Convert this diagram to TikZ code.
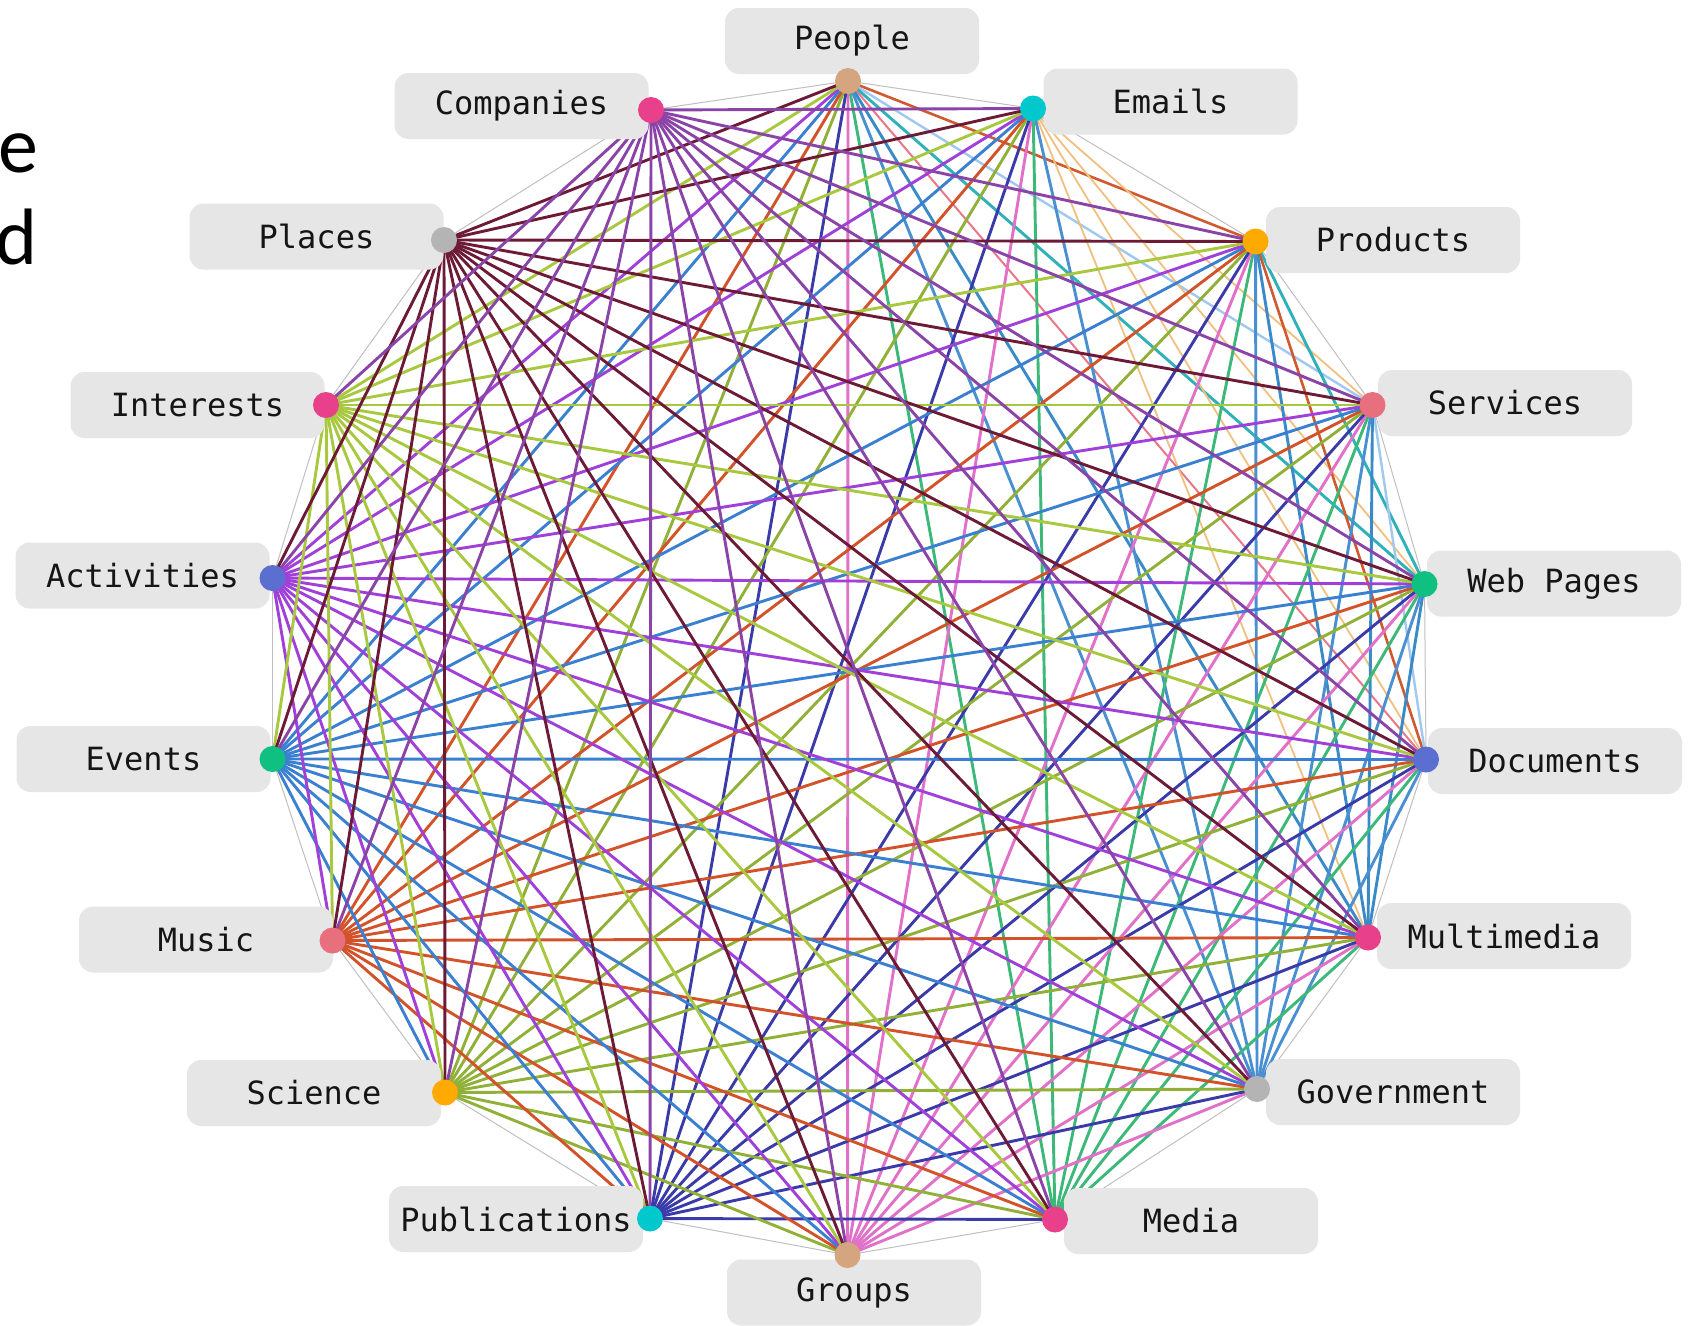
\documentclass[tikz,border=0pt]{standalone}
\usepackage{fontspec}
\newfontfamily\labelfont{DejaVu Sans Mono}
\newfontfamily\slidefont{Carlito}
% dot colours
\definecolor{dtan}{HTML}{D4A57F}
\definecolor{dpink}{HTML}{E8408A}
\definecolor{dcyan}{HTML}{00C8CC}
\definecolor{dgray}{HTML}{B4B4B4}
\definecolor{dorange}{HTML}{FFAA00}
\definecolor{dsalmon}{HTML}{E8707E}
\definecolor{dslate}{HTML}{5B6FD0}
\definecolor{dgreen}{HTML}{10C080}
\definecolor{boxfill}{HTML}{E6E6E6}
\definecolor{rimgray}{HTML}{C0C0C0}
\definecolor{txt}{HTML}{151515}
% edge colours by owning node
\definecolor{ec0}{HTML}{C87850}
\definecolor{ec1}{HTML}{F0C080}
\definecolor{ec2}{HTML}{D05A30}
\definecolor{ec3}{HTML}{A0C8F0}
\definecolor{ec4}{HTML}{30B0B8}
\definecolor{ec5}{HTML}{E87888}
\definecolor{ec6}{HTML}{3A8AC8}
\definecolor{ec7}{HTML}{4A90D0}
\definecolor{ec8}{HTML}{3CB878}
\definecolor{ec9}{HTML}{E070C8}
\definecolor{ec10}{HTML}{3A3AA8}
\definecolor{ec11}{HTML}{90B038}
\definecolor{ec12}{HTML}{D2522A}
\definecolor{ec13}{HTML}{3A7FD0}
\definecolor{ec14}{HTML}{A040D8}
\definecolor{ec15}{HTML}{A8C840}
\definecolor{ec16}{HTML}{6D1A36}
\definecolor{ec17}{HTML}{8A44A8}
\begin{document}
\begin{tikzpicture}[x=1pt,y=-1pt,
  labelbox/.style={draw=none,fill=boxfill,rounded corners=14pt,minimum width=254pt,minimum height=66pt,inner sep=0pt,
     font=\labelfont\fontsize{32}{38}\selectfont,text=txt},
  dot/.style={circle,draw=none,minimum size=26pt,inner sep=0pt},
  rimedge/.style={draw=rimgray,line width=1pt},
  slidetext/.style={inner sep=0pt,anchor=base east,font=\slidefont\fontsize{80}{90}\selectfont,text=black}]
\useasboundingbox (0,0) rectangle (1693,1325);
\fill[white] (0,0) rectangle (1693,1325);
% partial slide text
\node[slidetext] (se) at (39,172) {e};
\node[slidetext] (sd) at (37.5,264) {d};
% node positions
\coordinate (n0) at (848,81);
\coordinate (n1) at (1033,108.5);
\coordinate (n2) at (1255.5,241.5);
\coordinate (n3) at (1372.5,405);
\coordinate (n4) at (1424.5,584);
\coordinate (n5) at (1426,759.5);
\coordinate (n6) at (1368,937.5);
\coordinate (n7) at (1257,1089);
\coordinate (n8) at (1055,1219.5);
\coordinate (n9) at (847.5,1255);
\coordinate (n10) at (650,1218.5);
\coordinate (n11) at (445,1092.5);
\coordinate (n12) at (332.5,940.5);
\coordinate (n13) at (272.5,759);
\coordinate (n14) at (272.5,578);
\coordinate (n15) at (326,405);
\coordinate (n16) at (444,240);
\coordinate (n17) at (651,110);
% edges
\foreach \i in {0,...,16}{
  \pgfmathtruncatemacro\jstart{\i+1}
  \foreach \j in {\jstart,...,17}{
    \pgfmathtruncatemacro\dif{\j-\i}
    \ifnum\dif=1 \draw[rimedge] (n\i) -- (n\j);
    \else\ifnum\dif=17 \draw[rimedge] (n\i) -- (n\j);
    \else
      \pgfmathtruncatemacro\ri{{18,12,15,16,14,17,13,11,10,9,8,7,6,5,3,4,1,2}[\i]}
      \pgfmathtruncatemacro\rj{{18,12,15,16,14,17,13,11,10,9,8,7,6,5,3,4,1,2}[\j]}
      \pgfmathtruncatemacro\own{\ri<\rj ? \i : \j}
      \pgfmathsetmacro\wid{{2.9,1.8,2.6,2.4,2.9,2.0,2.9,2.9,2.9,2.9,2.9,2.9,2.9,2.9,2.9,2.9,2.9,2.9}[\own]}
      \draw[draw=ec\own,line width=\wid pt] (n\i) -- (n\j);
    \fi\fi
  }
}
% label boxes
\node[labelbox] (l0) at (852,41) {People};
\node[labelbox] (l1) at (1170.5,101.5) {Emails};
\node[labelbox] (l2) at (1393,240) {Products};
\node[labelbox] (l3) at (1505,403) {Services};
\node[labelbox] (l4) at (1554,583.5) {Web Pages};
\node[labelbox] (l5) at (1555,761) {Documents};
\node[labelbox] (l6) at (1504,936) {Multimedia};
\node[labelbox] (l7) at (1393,1092) {Government};
\node[labelbox] (l8) at (1191,1221) {Media};
\node[labelbox] (l9) at (854,1292.5) {Groups};
\node[labelbox] (l10) at (516,1219) {Publications};
\node[labelbox] (l11) at (314,1093) {Science};
\node[labelbox] (l12) at (206,939.5) {Music};
\node[labelbox] (l13) at (143.5,759) {Events};
\node[labelbox] (l14) at (142.5,575.5) {Activities};
\node[labelbox] (l15) at (197.5,405) {Interests};
\node[labelbox] (l16) at (316.5,236.5) {Places};
\node[labelbox] (l17) at (521.5,106) {Companies};
% dots
\node[dot,fill=dtan] (d0) at (n0) {};
\node[dot,fill=dcyan] (d1) at (n1) {};
\node[dot,fill=dorange] (d2) at (n2) {};
\node[dot,fill=dsalmon] (d3) at (n3) {};
\node[dot,fill=dgreen] (d4) at (n4) {};
\node[dot,fill=dslate] (d5) at (n5) {};
\node[dot,fill=dpink] (d6) at (n6) {};
\node[dot,fill=dgray] (d7) at (n7) {};
\node[dot,fill=dpink] (d8) at (n8) {};
\node[dot,fill=dtan] (d9) at (n9) {};
\node[dot,fill=dcyan] (d10) at (n10) {};
\node[dot,fill=dorange] (d11) at (n11) {};
\node[dot,fill=dsalmon] (d12) at (n12) {};
\node[dot,fill=dgreen] (d13) at (n13) {};
\node[dot,fill=dslate] (d14) at (n14) {};
\node[dot,fill=dpink] (d15) at (n15) {};
\node[dot,fill=dgray] (d16) at (n16) {};
\node[dot,fill=dpink] (d17) at (n17) {};
\end{tikzpicture}
\end{document}
